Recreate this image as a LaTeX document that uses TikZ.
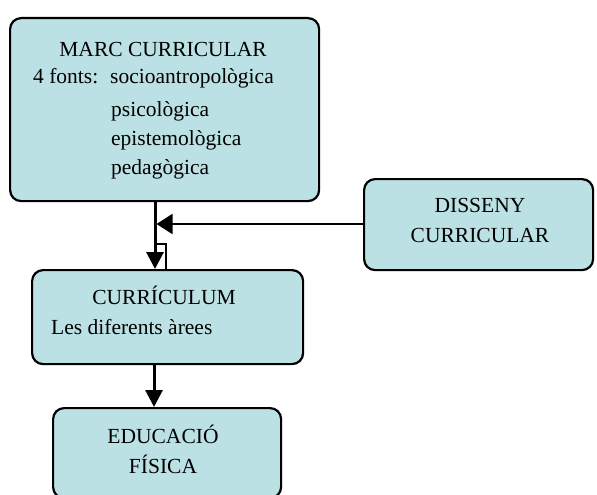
\documentclass[tikz,border=0pt]{standalone}
\usepackage{fontspec}
\setmainfont{Liberation Serif}
\usetikzlibrary{arrows.meta}
\definecolor{boxfill}{HTML}{BCE1E4}
\begin{document}
\begin{tikzpicture}[x=1pt,y=-1pt,
  box/.style={draw=black,line width=2.2pt,fill=boxfill,rounded corners=11pt,
    inner sep=0pt,anchor=north west},
  txt/.style={font=\fontsize{21.5}{24}\selectfont,inner sep=0pt},
  conn/.style={line width=1.6pt},
  flow/.style={line width=3pt,-{Triangle[width=17pt,length=17pt]}},
  feed/.style={line width=1.8pt,-{Triangle[width=20pt,length=16pt]}}]
\useasboundingbox (0,0) rectangle (597,495);
% boxes
\node[box,minimum width=309pt,minimum height=183pt] (marc) at (9,17) {};
\node[box,minimum width=229pt,minimum height=91pt] (dis) at (363,178) {};
\node[box,minimum width=271pt,minimum height=94pt] (curr) at (31,269) {};
\node[box,minimum width=228pt,minimum height=90pt] (edu) at (52,407) {};
% texts
\node[txt] (t1) at (163,49) {MARC CURRICULAR};
\node[txt,anchor=base west] (t2) at (33,84) {4 fonts:};
\node[txt,anchor=base west] (t3) at (110,84) {socioantropològica};
\node[txt,anchor=base west] (t4) at (111,116) {psicològica};
\node[txt,anchor=base west] (t5) at (111,145) {epistemològica};
\node[txt,anchor=base west] (t6) at (111,174) {pedagògica};
\node[txt] (d1) at (480,205) {DISSENY};
\node[txt] (d2) at (480,235) {CURRICULAR};
\node[txt] (c1) at (164,295) {CURRÍCULUM};
\node[txt,anchor=base west] (c2) at (51,334) {Les diferents àrees};
\node[txt] (e1) at (163,434) {EDUCACIÓ};
\node[txt] (e2) at (163,464) {FÍSICA};
% connectors
\coordinate (j1) at (155,224);
\coordinate (j2) at (155,244);
\coordinate (j3) at (166,244);
\coordinate (j4) at (154,380);
\draw[flow] (marc.south -| j1) -- (curr.north -| j1);
\draw[feed] (dis.west |- j1) -- ([xshift=1.5pt]j1);
\draw[conn] (j2) -- (j3) -- (curr.north -| j3);
\draw[flow] (curr.south -| j4) -- (edu.north -| j4);
\end{tikzpicture}
\end{document}
